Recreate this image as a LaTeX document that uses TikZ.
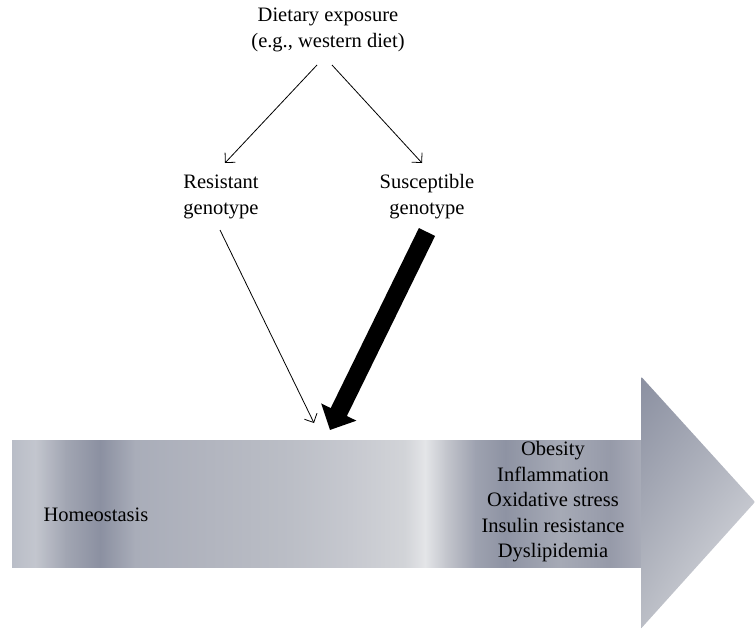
\documentclass[tikz,border=0pt]{standalone}
\usepackage{fontspec}
\setmainfont{Liberation Serif}
\usetikzlibrary{arrows.meta,shadings}

\definecolor{band0}{HTML}{B9BDC7}
\definecolor{band1}{HTML}{C3C6CE}
\definecolor{band2}{HTML}{A2A6B3}
\definecolor{band3}{HTML}{8B90A1}
\definecolor{band4}{HTML}{A9ADB9}
\definecolor{band5}{HTML}{B2B5BF}
\definecolor{band6}{HTML}{BBBEC6}
\definecolor{band7}{HTML}{C6C8CF}
\definecolor{band8}{HTML}{D2D4D8}
\definecolor{band9}{HTML}{E4E5E8}
\definecolor{band10}{HTML}{C5C7CE}
\definecolor{band11}{HTML}{9EA2B0}
\definecolor{band12}{HTML}{8E93A3}
\definecolor{band13}{HTML}{A6AAB6}
\definecolor{band14}{HTML}{969AA9}
\definecolor{band15}{HTML}{A9ACB8}

\tikzset{
  lbl/.style={align=center, inner sep=2pt,
    font=\fontsize{20.5}{26}\selectfont},
  thinarrow/.style={line width=0.8pt, -{Straight Barb[length=7pt,width=14pt]}},
  thickarrow/.style={line width=18pt, -{Triangle[length=20pt,width=38pt]}}
}

\begin{document}
\begin{tikzpicture}[x=1pt,y=-1pt]
\useasboundingbox (0,0) rectangle (755,629);

% big flow arrow: body in shaded strips, then the head
\foreach \xa/\ca/\xb/\cb in {12/band0/35/band1, 35/band1/65/band2, 65/band2/100/band3,
    100/band3/135/band4, 135/band4/210/band5, 210/band5/290/band6, 290/band6/350/band7,
    350/band7/405/band8, 405/band8/425/band9, 425/band9/445/band10, 445/band10/475/band11,
    475/band11/505/band12, 505/band12/560/band13, 560/band13/610/band14, 610/band14/642/band15}
  \shade[left color=\ca, right color=\cb] (\xa,440) rectangle ({\xb+0.6},567);
\shade[upper left=band3, upper right=band13, lower left=band6, lower right=band9]
  (641.5,377) -- (755,502) -- (641.5,628) -- cycle;

\node[lbl] (diet) at (328,30) {Dietary exposure\\(e.g., western diet)};
\node[lbl] (res) at (221,197) {Resistant\\genotype};
\node[lbl] (sus) at (427,197) {Susceptible\\genotype};
\node[lbl] (homeo) at (96,515) {Homeostasis};
\node[lbl, font=\fontsize{20.5}{25.5}\selectfont] (harm) at (553,502)
  {Obesity\\Inflammation\\Oxidative stress\\Insulin resistance\\Dyslipidemia};

\coordinate (dietL) at (317,65);
\coordinate (dietR) at (332,65);
\coordinate (resTop) at (225,163);
\coordinate (susTop) at (422,163);
\coordinate (resBot) at (220,230);
\coordinate (susBot) at (427,232);
\coordinate (flowL) at (314,423);
\coordinate (flowR) at (330,430);

\draw[thinarrow] (dietL) -- (resTop);
\draw[thinarrow] (dietR) -- (susTop);
\draw[thinarrow] (resBot) -- (flowL);
\draw[thickarrow] (susBot) -- (flowR);

\end{tikzpicture}
\end{document}
